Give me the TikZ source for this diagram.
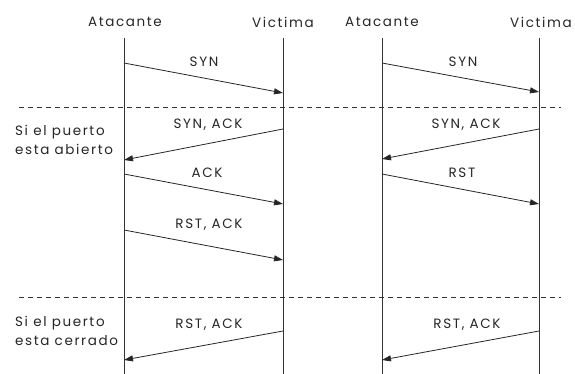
\documentclass[tikz,border=0pt]{standalone}
\usepackage{fontspec}
\setmainfont{Poppins}
\newfontfamily\diagfont[LetterSpace=12]{Poppins}
\usetikzlibrary{arrows.meta}
\begin{document}
\begin{tikzpicture}[x=1pt,y=-1pt,
  lifeline/.style={line width=0.8pt,draw=black!80},
  msg/.style={line width=0.8pt,draw=black!85,-{Triangle[length=9pt,width=6pt]}},
  divider/.style={line width=0.7pt,draw=black!80,dash pattern=on 5pt off 4pt},
  lbl/.style={font=\diagfont\fontsize{13.5}{15}\selectfont,text=black!85,inner sep=1pt},
  note/.style={font=\diagfont\fontsize{13.5}{18.5}\selectfont,text=black!85,align=left,anchor=west,inner sep=0pt}]
\useasboundingbox (0,0) rectangle (575,374);

% participants
\node[lbl] (a1) at (125,22) {Atacante};
\node[lbl] (v1) at (283,22) {Victima};
\node[lbl] (a2) at (382,22) {Atacante};
\node[lbl] (v2) at (541,22) {Victima};

% lifelines
\coordinate (a1e) at (124,374);
\coordinate (v1e) at (283,374);
\coordinate (a2e) at (382,374);
\coordinate (v2e) at (539,374);
\coordinate (a1s) at (124,38);
\coordinate (v1s) at (283,38);
\coordinate (a2s) at (382,38);
\coordinate (v2s) at (539,38);
\draw[lifeline] (a1s) -- (a1e);
\draw[lifeline] (v1s) -- (v1e);
\draw[lifeline] (a2s) -- (a2e);
\draw[lifeline] (v2s) -- (v2e);

% separators
\coordinate (d1l) at (19,107);  \coordinate (d1r) at (561,107);
\coordinate (d2l) at (19,297);  \coordinate (d2r) at (561,297);
\draw[divider] (d1l) -- (d1r);
\draw[divider] (d2l) -- (d2r);

% message end points, left scenario
\coordinate (p1) at (124,63);  \coordinate (q1) at (283,93);
\coordinate (p2) at (283,129); \coordinate (q2) at (124,160);
\coordinate (p3) at (124,174); \coordinate (q3) at (283,204);
\coordinate (p4) at (124,230); \coordinate (q4) at (283,260);
\coordinate (p5) at (283,331); \coordinate (q5) at (124,360);
% message end points, right scenario
\coordinate (r1) at (382,63);  \coordinate (s1) at (539,92);
\coordinate (r2) at (539,129); \coordinate (s2) at (382,159);
\coordinate (r3) at (382,174); \coordinate (s3) at (539,204);
\coordinate (r5) at (539,331); \coordinate (s5) at (382,360);

\draw[msg] (p1) -- (q1);
\draw[msg] (p2) -- (q2);
\draw[msg] (p3) -- (q3);
\draw[msg] (p4) -- (q4);
\draw[msg] (p5) -- (q5);
\draw[msg] (r1) -- (s1);
\draw[msg] (r2) -- (s2);
\draw[msg] (r3) -- (s3);
\draw[msg] (r5) -- (s5);

% message labels
\node[lbl] (m1) at (204,62) {SYN};
\node[lbl] (m2) at (208,125) {SYN, ACK};
\node[lbl] (m3) at (207,173) {ACK};
\node[lbl] (m4) at (209,225) {RST, ACK};
\node[lbl] (m5) at (209,325) {RST, ACK};
\node[lbl] (n1) at (463,62) {SYN};
\node[lbl] (n2) at (466,125) {SYN, ACK};
\node[lbl] (n3) at (462,173) {RST};
\node[lbl] (n5) at (467,325) {RST, ACK};

% case notes
\node[note] (c1) at (15,140) {Si el puerto\\esta abierto};
\node[note] (c2) at (15,331) {Si el puerto\\esta cerrado};
\end{tikzpicture}
\end{document}
